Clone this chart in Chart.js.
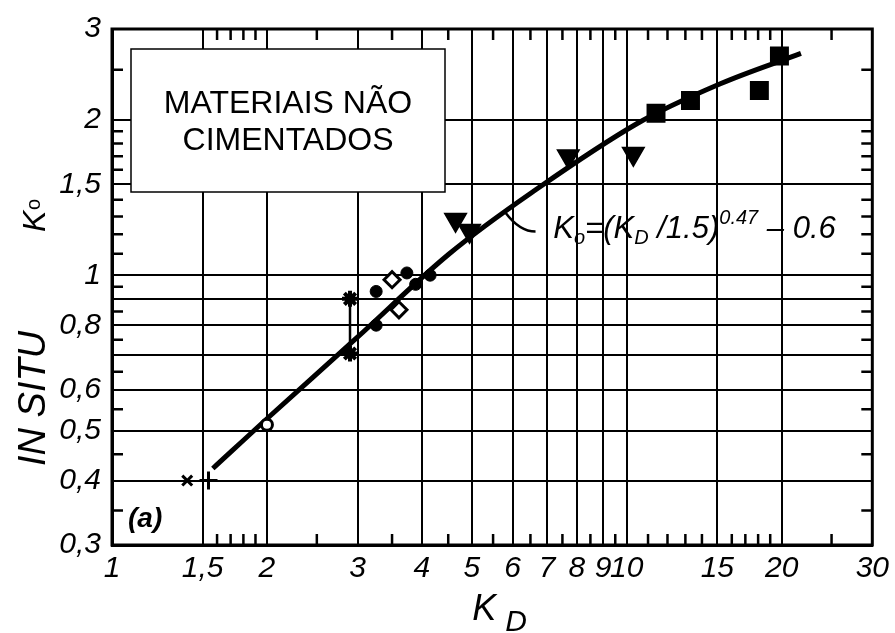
<!DOCTYPE html>
<html>
<head>
<meta charset="utf-8">
<script src="https://cdn.jsdelivr.net/npm/chart.js@4.4.0/dist/chart.umd.min.js"></script>
<style>
  html, body { margin: 0; padding: 0; background: #fff; }
</style>
</head>
<body>
<canvas id="chKo" width="895" height="633"></canvas>
<script>
/* K0 in situ vs KD, log-log */

// axis ticks
var xTicks = [1, 1.5, 2, 3, 4, 5, 6, 7, 8, 9, 10, 15, 20, 30];
var xTickLabels = ["1", "1,5", "2", "3", "4", "5", "6", "7", "8", "9", "10", "15", "20", "30"];
var yTicks = [0.3, 0.4, 0.5, 0.6, 0.7, 0.8, 0.9, 1, 1.5, 2, 3];
var yTickLabels = ["0,3", "0,4", "0,5", "0,6", "", "0,8", "", "1", "1,5", "2", "3"];
var xMinor = [1.6, 1.7, 1.8, 1.9, 2.5, 3.5, 4.5, 5.5, 6.5, 7.5, 8.5, 9.5, 11, 12, 13, 14, 16, 17, 18, 19, 25];
var yMinor = [0.35, 0.45, 0.55, 0.65, 0.75, 0.85, 0.95, 1.1, 1.2, 1.3, 1.4, 1.6, 1.7, 1.8, 1.9, 2.5];

// measured points (KD, K0) per symbol
var xcrossKD = [1.40];
var xcrossK0 = [0.40];
var plusKD = [1.54];
var plusK0 = [0.40];
var ringKD = [2.0];
var ringK0 = [0.513];
var starKD = [2.9, 2.9];
var starK0 = [0.90, 0.705];
var dotKD = [3.26, 3.26, 3.74, 3.89, 4.15];
var dotK0 = [0.93, 0.80, 1.01, 0.96, 1.0];
var diamondKD = [3.50, 3.61];
var diamondK0 = [0.98, 0.857];
var triKD = [4.65, 4.95, 7.7, 10.3];
var triK0 = [1.28, 1.22, 1.70, 1.72];
var squareKD = [11.4, 13.3, 18.1, 19.8];
var squareK0 = [2.06, 2.18, 2.28, 2.66];

// fitted curve K0 = (KD/1.5)^0.47 - 0.6
var curveKD = [1.57, 2.0, 2.98, 4.51, 6.53, 10.5, 15.2, 21.8];
var curveK0 = [0.422, 0.527, 0.754, 1.098, 1.445, 1.97, 2.35, 2.69];

function pts(xs, ys) {
  return xs.map(function (v, i) { return { x: v, y: ys[i] }; });
}

var tickFont = { family: "Liberation Sans", style: "italic", size: 30 };

function marker(data, style, radius, fill, bw, extra) {
  var ds = {
    data: data,
    pointStyle: style,
    pointRadius: radius,
    pointBackgroundColor: fill,
    pointBorderColor: "#000",
    pointBorderWidth: bw,
    showLine: false
  };
  for (var k in extra) ds[k] = extra[k];
  return ds;
}

var extras = {
  id: "extras",
  afterDraw: function (chart) {
    var ctx = chart.ctx, a = chart.chartArea;
    var sx = chart.scales.x, sy = chart.scales.y;
    ctx.save();
    ctx.strokeStyle = "#000";
    ctx.fillStyle = "#000";

    // minor ticks, inward on all four sides
    ctx.lineWidth = 2.5;
    ctx.beginPath();
    xMinor.forEach(function (v) {
      var px = sx.getPixelForValue(v);
      ctx.moveTo(px, a.bottom); ctx.lineTo(px, a.bottom - 11);
      ctx.moveTo(px, a.top); ctx.lineTo(px, a.top + 11);
    });
    yMinor.forEach(function (v) {
      var py = sy.getPixelForValue(v);
      ctx.moveTo(a.left, py); ctx.lineTo(a.left + 11, py);
      ctx.moveTo(a.right, py); ctx.lineTo(a.right - 11, py);
    });
    ctx.stroke();

    // frame
    ctx.lineWidth = 3;
    ctx.strokeRect(a.left, a.top, a.right - a.left, a.bottom - a.top);

    // label box
    var bx = a.left + 19, by = a.top + 20, bw = 314, bh = 143;
    ctx.fillStyle = "#fff";
    ctx.fillRect(bx, by, bw, bh);
    ctx.lineWidth = 1.5;
    ctx.strokeRect(bx, by, bw, bh);
    ctx.fillStyle = "#000";
    ctx.font = "32px 'Liberation Sans'";
    ctx.textAlign = "center";
    ctx.textBaseline = "alphabetic";
    ctx.fillText("MATERIAIS NÃO", bx + bw / 2, by + 64);
    ctx.fillText("CIMENTADOS", bx + bw / 2, by + 101);

    // (a)
    ctx.textAlign = "left";
    ctx.font = "italic bold 28px 'Liberation Sans'";
    ctx.fillText("(a)", a.left + 16, a.bottom - 18);

    // equation with leader
    var lx0 = sx.getPixelForValue(5.82), ly0 = sy.getPixelForValue(1.32);
    var lx1 = sx.getPixelForValue(6.65), ly1 = sy.getPixelForValue(1.215);
    ctx.lineWidth = 2.5;
    ctx.beginPath();
    ctx.moveTo(lx0, ly0);
    ctx.quadraticCurveTo(lx0 + 14, ly1, lx1, ly1);
    ctx.stroke();

    var ex = sx.getPixelForValue(7.2), ey = sy.getPixelForValue(1.18);
    var parts = [
      ["K", 31, 0], ["o", 20, 6], ["=(K", 31, 0], ["D", 20, 6],
      [" /1.5)", 31, 0], ["0.47", 20, -14], [" – 0.6", 31, 0]
    ];
    parts.forEach(function (p) {
      ctx.font = "italic " + p[1] + "px 'Liberation Sans'";
      ctx.fillText(p[0], ex, ey + p[2]);
      ex += ctx.measureText(p[0]).width;
    });

    // x title K_D
    var tx = (a.left + a.right) / 2 - 20;
    ctx.font = "italic 36px 'Liberation Sans'";
    ctx.fillText("K", tx, 620);
    ctx.font = "italic 30px 'Liberation Sans'";
    ctx.fillText("D", tx + 33, 631);

    // y title IN SITU  Ko
    ctx.translate(45, 0);
    ctx.rotate(-Math.PI / 2);
    ctx.font = "italic 38px 'Liberation Sans'";
    ctx.fillText("IN SITU", -466, 0);
    ctx.font = "italic 32px 'Liberation Sans'";
    ctx.fillText("K", -232, 0);
    ctx.font = "20px 'Liberation Sans'";
    ctx.fillText("o", -210, -5);
    ctx.restore();
  }
};

new Chart(document.getElementById("chKo"), {
  type: "scatter",
  data: {
    datasets: [
      marker(pts(xcrossKD, xcrossK0), "crossRot", 7, "#000", 3),
      marker(pts(plusKD, plusK0), "cross", 9, "#000", 3),
      marker(pts(ringKD, ringK0), "circle", 5.5, "#fff", 3),
      marker(pts(starKD, starK0), "star", 8, "#000", 4,
        { showLine: true, borderColor: "#000", borderWidth: 2.5 }),
      marker(pts(dotKD, dotK0), "circle", 6, "#000", 1),
      marker(pts(diamondKD, diamondK0), "rectRot", 8, "#fff", 3),
      marker(pts(triKD, triK0), "triangle", 12, "#000", 2, { pointRotation: 180 }),
      marker(pts(squareKD, squareK0), "rect", 12, "#000", 2),
      {
        data: pts(curveKD, curveK0),
        showLine: true,
        pointRadius: 0,
        borderColor: "#000",
        borderWidth: 5,
        tension: 0.35
      }
    ]
  },
  options: {
    responsive: false,
    animation: false,
    layout: { padding: { left: 0, top: 25, right: 20, bottom: 0 } },
    plugins: { legend: { display: false }, tooltip: { enabled: false } },
    scales: {
      x: {
        type: "logarithmic",
        min: 1,
        max: 30,
        afterBuildTicks: function (s) { s.ticks = xTicks.map(function (v) { return { value: v }; }); },
        afterFit: function (s) { s.height = 88; },
        grid: { color: "#000", lineWidth: 2, drawTicks: false },
        border: { display: true, color: "#000", width: 3 },
        ticks: {
          autoSkip: false,
          maxRotation: 0,
          padding: 6,
          color: "#000",
          font: tickFont,
          callback: function (v, i) { return xTickLabels[i]; }
        }
      },
      y: {
        type: "logarithmic",
        min: 0.3,
        max: 3,
        afterBuildTicks: function (s) { s.ticks = yTicks.map(function (v) { return { value: v }; }); },
        afterFit: function (s) { s.width = 112; },
        grid: { color: "#000", lineWidth: 2, drawTicks: false },
        border: { display: true, color: "#000", width: 3 },
        ticks: {
          autoSkip: false,
          padding: 11,
          color: "#000",
          font: tickFont,
          callback: function (v, i) { return yTickLabels[i]; }
        }
      }
    }
  },
  plugins: [extras]
});
</script>
</body>
</html>
